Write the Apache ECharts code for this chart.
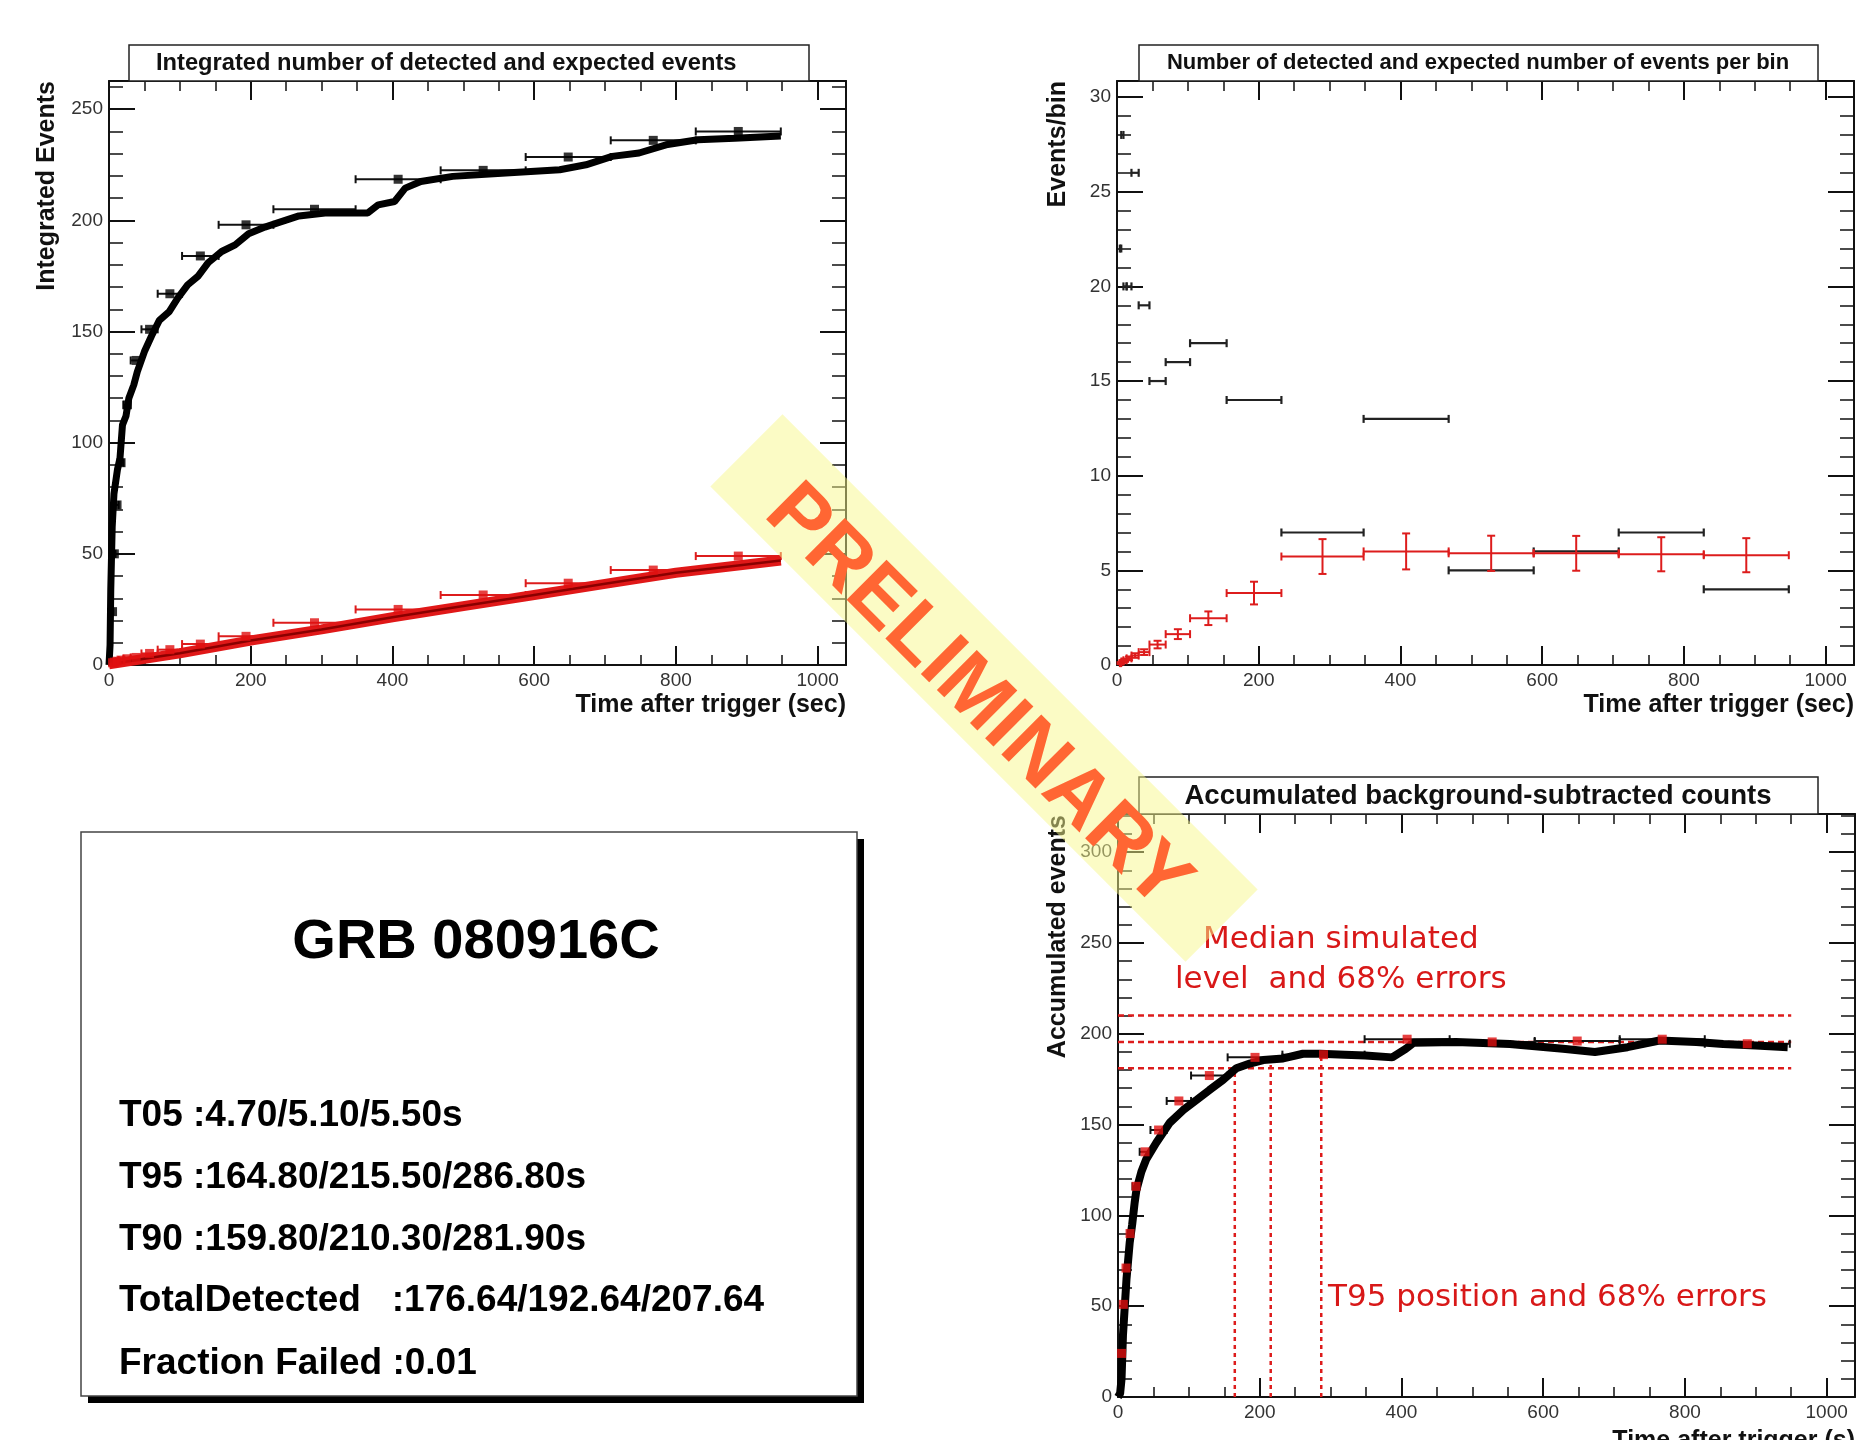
<!DOCTYPE html>
<html><head><meta charset="utf-8">
<script src="https://cdn.jsdelivr.net/npm/echarts@6/dist/echarts.min.js"></script>
<style>html,body{margin:0;padding:0;background:#fff}#c{width:1866px;height:1440px}</style>
</head><body><div id="c"></div>
<script>
// ---------------- data ----------------
const binLo = [4.0, 6.0, 9.1, 13.6, 20.4, 30.6, 45.8, 68.7, 103.1, 154.7, 232, 348, 468, 588, 708, 828];
const binHi = [6.0, 9.1, 13.6, 20.4, 30.6, 45.8, 68.7, 103.1, 154.7, 232, 348, 468, 588, 708, 828, 948];
// top-right: events per bin
const detectedPerBin = [22, 28, 20, 20, 26, 19, 15, 16, 17, 14, 7, 13, 5, 6, 7, 4];
const expectedPerBin = [0.1, 0.18, 0.25, 0.35, 0.5, 0.68, 1.08, 1.63, 2.47, 3.8, 5.73, 6.0, 5.9, 5.9, 5.85, 5.8];
const expectedPerBinErr = [0.05, 0.06, 0.08, 0.1, 0.12, 0.15, 0.2, 0.26, 0.36, 0.6, 0.92, 0.95, 0.93, 0.92, 0.9, 0.9];
// top-left: integrated (binned markers)
const detectedCumBin = [24, 50, 72, 91, 117, 137, 151, 167, 184, 198, 205, 218.5, 222.5, 228.5, 236, 240];
const expectedCumBin = [1.0, 1.3, 1.7, 2.2, 2.8, 3.4, 5.2, 6.9, 9.4, 12.9, 19, 25, 31.5, 36.8, 42.7, 49];
// top-left: integrated curves
const detCurveT = [0, 1.5, 2.5, 4.5, 7, 12, 15.5, 19, 24, 28, 35, 40, 50, 60, 71, 85, 97, 111, 126, 140, 159, 178, 197, 220, 239, 268, 305, 365, 380, 403, 418, 440, 485, 560, 636, 673, 710, 748, 786, 831, 883, 948];
const detCurveN = [0, 9, 34, 62, 77, 88, 93, 108, 112, 120, 126, 132, 141, 148, 155, 159, 165, 171, 175, 181, 186, 189, 194, 197, 199, 202, 203.3, 203.3, 207, 208.5, 214.5, 217.5, 219.8, 221.3, 222.8, 225, 228.8, 230.3, 234, 236.3, 237, 238];
const expCurveT = [0, 100, 200, 300, 400, 500, 600, 700, 800, 948];
const expCurveN = [0.3, 5.3, 11, 16, 21.5, 26.5, 31.5, 36.5, 41.5, 47];
// bottom-right: accumulated background-subtracted counts
const subCurveT = [0, 3, 5, 7, 12, 16.5, 20, 23.5, 26, 33, 40, 54, 73, 92, 111, 129, 148, 167, 186, 205, 233, 261, 285, 320, 349, 387, 406, 417, 477, 553, 628, 673, 719, 764, 816, 854, 900, 945];
const subCurveN = [0, 2, 10, 34, 65, 85, 95, 107, 114, 124, 131, 140, 151, 158, 163.6, 169, 174.5, 181, 183.6, 185.5, 186.4, 189, 189, 188.5, 188, 187, 191.7, 195, 195.4, 194.4, 191.7, 190, 192.6, 196.3, 195.4, 194.4, 193.5, 192.6];
const subCumBin = [24, 51, 71, 90, 116, 135, 147, 163, 177, 187, 188.5, 197, 195.5, 196, 197, 194.5];
const medianLevels = [181, 195.5, 210];
const levelRange = [0, 950];
const t95Pos = [164.8, 215.5, 286.8];
const t95Top = [180, 184, 189];
// text box
const boxTitle = 'GRB 080916C';
const boxLines = ['T05 :4.70/5.10/5.50s', 'T95 :164.80/215.50/286.80s', 'T90 :159.80/210.30/281.90s', 'TotalDetected   :176.64/192.64/207.64', 'Fraction Failed :0.01'];

// ---------------- helpers ----------------
const FONT = '"Liberation Sans", Arial, Helvetica, sans-serif';
const chart = echarts.init(document.getElementById('c'), null, {renderer: 'canvas', width: 1866, height: 1440});

const panels = [
  {left: 109, top: 81, width: 737, height: 584, xmax: 1040, ymax: 262.7, yMaj: 50, yMin: 10, xName: 'Time after trigger (sec)', namePad: 28},
  {left: 1117, top: 81, width: 737, height: 584, xmax: 1040, ymax: 30.85, yMaj: 5, yMin: 1, xName: 'Time after trigger (sec)', namePad: 28},
  {left: 1118, top: 814, width: 737, height: 583, xmax: 1040, ymax: 321, yMaj: 50, yMin: 10, xName: 'Time after trigger (s)', namePad: 32}
];
const grids = [], xAxes = [], yAxes = [];
const lineOn = {show: true, onZero: false, lineStyle: {color: '#111', width: 2}};
const lineOff = {show: false, onZero: false};
const lab = {show: true, fontSize: 19, color: '#333', fontFamily: FONT, margin: 6, showMaxLabel: false, hideOverlap: false, formatter: v => String(v)};
const tick = (len, w) => ({show: true, inside: true, length: len, lineStyle: {color: '#111', width: w}});
panels.forEach((p, i) => {
  const g = {left: p.left, top: p.top, width: p.width, height: p.height, containLabel: false, outerBoundsMode: 'none'};
  grids.push(g, Object.assign({}, g));
  const gMaj = 2 * i, gMin = 2 * i + 1;
  const cx = {type: 'value', min: 0, max: p.xmax, splitLine: {show: false}, minorTick: {show: false}};
  const cy = {type: 'value', min: 0, max: p.ymax, splitLine: {show: false}, minorTick: {show: false}};
  xAxes.push(Object.assign({}, cx, {gridIndex: gMaj, position: 'bottom', interval: 200, axisLine: lineOn, axisTick: tick(19, 2), axisLabel: lab,
    name: p.xName, nameLocation: 'end', nameGap: 0,
    nameTextStyle: {fontSize: 25, fontWeight: 'bold', fontFamily: FONT, color: '#111', align: 'right', verticalAlign: 'top', padding: [p.namePad, 0, 0, 0]}}));
  xAxes.push(Object.assign({}, cx, {gridIndex: gMaj, position: 'top', interval: 200, axisLine: lineOn, axisTick: tick(19, 2), axisLabel: {show: false}}));
  xAxes.push(Object.assign({}, cx, {gridIndex: gMin, position: 'bottom', interval: 50, axisLine: lineOff, axisTick: tick(10, 1.5), axisLabel: {show: false}}));
  xAxes.push(Object.assign({}, cx, {gridIndex: gMin, position: 'top', interval: 50, axisLine: lineOff, axisTick: tick(10, 1.5), axisLabel: {show: false}}));
  yAxes.push(Object.assign({}, cy, {gridIndex: gMaj, position: 'left', interval: p.yMaj, axisLine: lineOn, axisTick: tick(26, 2), axisLabel: lab}));
  yAxes.push(Object.assign({}, cy, {gridIndex: gMaj, position: 'right', interval: p.yMaj, axisLine: lineOn, axisTick: tick(26, 2), axisLabel: {show: false}}));
  yAxes.push(Object.assign({}, cy, {gridIndex: gMin, position: 'left', interval: p.yMin, axisLine: lineOff, axisTick: tick(14, 1.5), axisLabel: {show: false}}));
  yAxes.push(Object.assign({}, cy, {gridIndex: gMin, position: 'right', interval: p.yMin, axisLine: lineOff, axisTick: tick(14, 1.5), axisLabel: {show: false}}));
});

function hbar(color, capH, lw) {
  return function (params, api) {
    const lo = api.value(0), hi = api.value(1), y = api.value(2);
    const a = api.coord([lo, y]), b = api.coord([hi, y]);
    const st = {stroke: color, lineWidth: lw};
    return {type: 'group', children: [
      {type: 'line', shape: {x1: a[0], y1: a[1], x2: b[0], y2: b[1]}, style: st},
      {type: 'line', shape: {x1: a[0], y1: a[1] - capH, x2: a[0], y2: a[1] + capH}, style: st},
      {type: 'line', shape: {x1: b[0], y1: b[1] - capH, x2: b[0], y2: b[1] + capH}, style: st}
    ]};
  };
}
function xyErr(color, capH, lw) {
  return function (params, api) {
    const lo = api.value(0), hi = api.value(1), y = api.value(2), e = api.value(3);
    const mid = (lo + hi) / 2;
    const a = api.coord([lo, y]), b = api.coord([hi, y]);
    const t = api.coord([mid, y + e]), d = api.coord([mid, y - e]);
    const st = {stroke: color, lineWidth: lw};
    return {type: 'group', children: [
      {type: 'line', shape: {x1: a[0], y1: a[1], x2: b[0], y2: b[1]}, style: st},
      {type: 'line', shape: {x1: a[0], y1: a[1] - capH, x2: a[0], y2: a[1] + capH}, style: st},
      {type: 'line', shape: {x1: b[0], y1: b[1] - capH, x2: b[0], y2: b[1] + capH}, style: st},
      {type: 'line', shape: {x1: t[0], y1: t[1], x2: d[0], y2: d[1]}, style: st},
      {type: 'line', shape: {x1: t[0] - capH, y1: t[1], x2: t[0] + capH, y2: t[1]}, style: st},
      {type: 'line', shape: {x1: d[0] - capH, y1: d[1], x2: d[0] + capH, y2: d[1]}, style: st}
    ]};
  };
}
function dashH(color, lw, dash) {
  return function (params, api) {
    const a = api.coord([api.value(0), api.value(2)]), b = api.coord([api.value(1), api.value(2)]);
    return {type: 'line', shape: {x1: a[0], y1: a[1], x2: b[0], y2: b[1]}, style: {stroke: color, lineWidth: lw, lineDash: dash}};
  };
}
function dashV(color, lw, dash) {
  return function (params, api) {
    const a = api.coord([api.value(0), 0]), b = api.coord([api.value(0), api.value(1)]);
    return {type: 'line', shape: {x1: a[0], y1: a[1], x2: b[0], y2: b[1]}, style: {stroke: color, lineWidth: lw, lineDash: dash}};
  };
}
const zip = (a, b) => a.map((v, i) => [v, b[i]]);
const binRows = (vals) => binLo.map((lo, i) => [lo, binHi[i], vals[i]]);
const binRowsErr = (vals, errs) => binLo.map((lo, i) => [lo, binHi[i], vals[i], errs[i]]);
const centers = (vals) => binLo.map((lo, i) => [(lo + binHi[i]) / 2, vals[i]]);

const RED = '#dd1c1c';
const series = [
  // ---- top-left ----
  {type: 'custom', xAxisIndex: 0, yAxisIndex: 0, renderItem: hbar('#111', 4, 2), data: binRows(detectedCumBin), encode: {x: [0, 1], y: 2}, z: 2},
  {type: 'custom', xAxisIndex: 0, yAxisIndex: 0, renderItem: hbar(RED, 4, 2), data: binRows(expectedCumBin), encode: {x: [0, 1], y: 2}, z: 2},
  {type: 'line', xAxisIndex: 0, yAxisIndex: 0, data: zip(expCurveT, expCurveN), showSymbol: false, lineStyle: {color: '#e01818', width: 10}, z: 3},
  {type: 'line', xAxisIndex: 0, yAxisIndex: 0, data: zip(expCurveT, expCurveN), showSymbol: false, lineStyle: {color: '#8a0000', width: 2.5}, z: 4},
  {type: 'line', xAxisIndex: 0, yAxisIndex: 0, data: zip(detCurveT, detCurveN), showSymbol: false, lineStyle: {color: '#000', width: 7}, z: 3},
  {type: 'scatter', xAxisIndex: 0, yAxisIndex: 0, data: centers(detectedCumBin), symbol: 'rect', symbolSize: 9, itemStyle: {color: '#000'}, z: 5},
  {type: 'scatter', xAxisIndex: 0, yAxisIndex: 0, data: centers(expectedCumBin), symbol: 'rect', symbolSize: 9, itemStyle: {color: '#e01010'}, z: 5},
  // ---- top-right ----
  {type: 'custom', xAxisIndex: 4, yAxisIndex: 4, renderItem: hbar('#222', 4, 2.2), data: binRows(detectedPerBin), encode: {x: [0, 1], y: 2}, z: 3},
  {type: 'custom', xAxisIndex: 4, yAxisIndex: 4, renderItem: xyErr(RED, 4, 2), data: binRowsErr(expectedPerBin, expectedPerBinErr), encode: {x: [0, 1], y: 2}, z: 4},
  // ---- bottom-right ----
  {type: 'custom', xAxisIndex: 8, yAxisIndex: 8, renderItem: dashH(RED, 2.5, [6, 4]), data: medianLevels.map(v => [levelRange[0], levelRange[1], v]), encode: {x: [0, 1], y: 2}, z: 2},
  {type: 'custom', xAxisIndex: 8, yAxisIndex: 8, renderItem: dashV(RED, 2.5, [4, 4]), data: zip(t95Pos, t95Top), encode: {x: 0, y: 1}, z: 2},
  {type: 'custom', xAxisIndex: 8, yAxisIndex: 8, renderItem: hbar('#111', 4, 2), data: binRows(subCumBin), encode: {x: [0, 1], y: 2}, z: 2},
  {type: 'line', xAxisIndex: 8, yAxisIndex: 8, data: zip(subCurveT, subCurveN), showSymbol: false, lineStyle: {color: '#000', width: 8}, z: 3},
  {type: 'scatter', xAxisIndex: 8, yAxisIndex: 8, data: centers(subCumBin), symbol: 'rect', symbolSize: 9, itemStyle: {color: '#e01010'}, z: 5}
];

// ---------------- graphics ----------------
const txt = (x, y, text, font, fill, align, valign, rot, z) => ({
  type: 'text', x: x, y: y, rotation: rot || 0, z: z || 20,
  style: {text: text, font: font, fill: fill, textAlign: align, align: align, textVerticalAlign: valign, verticalAlign: valign}
});
const graphics = [
  // title boxes
  {type: 'rect', shape: {x: 129, y: 45, width: 680, height: 36}, style: {fill: '#fff', stroke: '#222', lineWidth: 1.5}, z: 10},
  txt(156, 63, 'Integrated number of detected and expected events', 'bold 23.7px ' + FONT, '#111', 'left', 'middle'),
  {type: 'rect', shape: {x: 1139, y: 45, width: 679, height: 36}, style: {fill: '#fff', stroke: '#222', lineWidth: 1.5}, z: 10},
  txt(1478, 63, 'Number of detected and expected number of events per bin', 'bold 22px ' + FONT, '#111', 'center', 'middle'),
  {type: 'rect', shape: {x: 1139, y: 777, width: 679, height: 37}, style: {fill: '#fff', stroke: '#222', lineWidth: 1.5}, z: 10},
  txt(1478, 796, 'Accumulated background-subtracted counts', 'bold 27.6px ' + FONT, '#111', 'center', 'middle'),
  // y axis titles
  txt(47, 81, 'Integrated Events', 'bold 25px ' + FONT, '#111', 'right', 'middle', Math.PI / 2),
  txt(1058, 81, 'Events/bin', 'bold 25px ' + FONT, '#111', 'right', 'middle', Math.PI / 2),
  txt(1058, 815, 'Accumulated events', 'bold 25px ' + FONT, '#111', 'right', 'middle', Math.PI / 2),
  // text box with shadow
  {type: 'rect', shape: {x: 88, y: 839, width: 776, height: 564}, style: {fill: '#000'}, z: 10},
  {type: 'rect', shape: {x: 81, y: 832, width: 776, height: 564}, style: {fill: '#fff', stroke: '#444', lineWidth: 1.5}, z: 11},
  txt(476, 943, boxTitle, 'bold 56px ' + FONT, '#000', 'center', 'middle', 0, 12),
  // annotations
  txt(1203, 940, 'Median simulated', '31px "DejaVu Sans", sans-serif', '#d81818', 'left', 'middle'),
  txt(1175, 980, 'level  and 68% errors', '31px "DejaVu Sans", sans-serif', '#d81818', 'left', 'middle'),
  txt(1328, 1298, 'T95 position and 68% errors', '31px "DejaVu Sans", sans-serif', '#d81818', 'left', 'middle')
];
const lineY = [1116, 1178, 1240, 1301, 1364];
boxLines.forEach((s, i) => graphics.push(txt(119, lineY[i], s, 'bold 37px ' + FONT, '#000', 'left', 'middle', 0, 12)));
// PRELIMINARY watermark
graphics.push({
  type: 'group', x: 984, y: 688, rotation: -Math.PI / 4, z: 200,
  children: [
    {type: 'rect', shape: {x: -336, y: -51, width: 672, height: 102}, style: {fill: 'rgba(248,248,140,0.5)'}, z: 200},
    {type: 'text', x: 2, y: 12, z: 201, style: {text: 'PRELIMINARY', font: 'bold 82px ' + FONT, fill: '#ff6633', textAlign: 'center', align: 'center', textVerticalAlign: 'middle', verticalAlign: 'middle'}}
  ]
});

chart.setOption({
  animation: false,
  backgroundColor: '#fff',
  grid: grids,
  xAxis: xAxes,
  yAxis: yAxes,
  series: series,
  graphic: {elements: graphics}
});
</script>
</body></html>
